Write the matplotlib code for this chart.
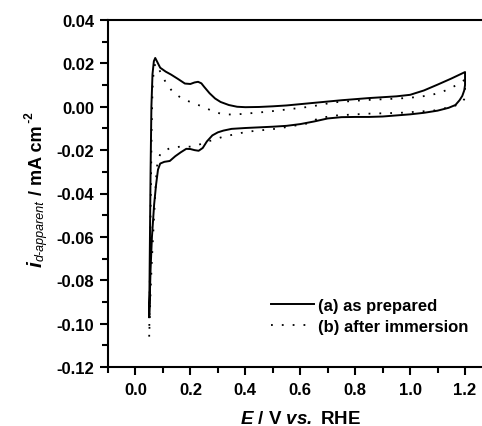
import matplotlib
matplotlib.use('Agg')
import matplotlib.pyplot as plt
from matplotlib.ticker import MultipleLocator

# (a) as prepared - positive sweep then negative sweep
E_a_fwd = [0.050, 0.052, 0.055, 0.058, 0.062, 0.067, 0.072, 0.078, 0.09, 0.11, 0.13, 0.155, 0.18, 0.20,
           0.215, 0.228, 0.24, 0.25, 0.27, 0.29, 0.31, 0.34, 0.37, 0.40, 0.45, 0.50, 0.55, 0.60, 0.65,
           0.70, 0.75, 0.80, 0.85, 0.90, 0.95, 1.00, 1.05, 1.10, 1.15, 1.20]
i_a_fwd = [-0.097, -0.070, -0.030, 0.000, 0.015, 0.021, 0.0225, 0.021, 0.018, 0.0162, 0.0148, 0.0128,
           0.0107, 0.0105, 0.0112, 0.0115, 0.0108, 0.0092, 0.0062, 0.0038, 0.0022, 0.0008, 0.0000,
           -0.0002, -0.0001, 0.0002, 0.0006, 0.0012, 0.0018, 0.0024, 0.0030, 0.0035, 0.0040, 0.0044,
           0.0048, 0.0055, 0.0075, 0.0102, 0.0130, 0.0160]
E_a_rev = [1.20, 1.197, 1.19, 1.18, 1.165, 1.14, 1.10, 1.05, 1.00, 0.95, 0.90, 0.85, 0.80, 0.75, 0.70,
           0.65, 0.60, 0.55, 0.50, 0.45, 0.40, 0.35, 0.32, 0.30, 0.28, 0.26, 0.245, 0.23, 0.215, 0.20,
           0.185, 0.165, 0.145, 0.125, 0.105, 0.09, 0.082, 0.075, 0.068, 0.060, 0.055, 0.050]
i_a_rev = [0.0100, 0.0075, 0.0050, 0.0030, 0.0008, -0.0005, -0.0018, -0.0028, -0.0035, -0.0040,
           -0.0045, -0.0047, -0.0047, -0.0048, -0.0054, -0.0068, -0.0080, -0.0088, -0.0092, -0.0095,
           -0.0098, -0.0102, -0.0110, -0.0118, -0.0132, -0.0160, -0.0190, -0.0203, -0.0200, -0.0195,
           -0.0194, -0.0210, -0.0228, -0.0250, -0.0254, -0.0262, -0.0290, -0.0360, -0.0450, -0.0600,
           -0.0750, -0.0970]

# (b) after immersion
E_b_fwd = [0.050, 0.051, 0.053, 0.056, 0.059, 0.062, 0.066, 0.072, 0.08, 0.09, 0.11, 0.135, 0.17, 0.21,
           0.25, 0.285, 0.32, 0.36, 0.40, 0.48, 0.575, 0.64, 0.72, 0.84, 0.96, 1.03, 1.08, 1.12, 1.16, 1.20]
i_b_fwd = [-0.106, -0.095, -0.070, -0.040, -0.010, 0.008, 0.016, 0.0200, 0.0185, 0.0162, 0.0113,
           0.0069, 0.0037, 0.0017, -0.0002, -0.0023, -0.0035, -0.0036, -0.0032, -0.0023, -0.0009,
           0.0001, 0.0020, 0.0031, 0.0038, 0.0045, 0.0055, 0.0070, 0.0094, 0.0125]
E_b_rev = [1.20, 1.197, 1.19, 1.164, 1.12, 1.084, 0.964, 0.844, 0.72, 0.662, 0.636, 0.516, 0.407, 0.32,
           0.262, 0.211, 0.164, 0.127, 0.091, 0.08, 0.075, 0.068, 0.060, 0.055, 0.050]
i_b_rev = [0.0060, 0.0035, 0.0020, 0.0005, -0.0009, -0.0018, -0.0028, -0.0032, -0.0041, -0.0055,
           -0.0075, -0.0101, -0.0115, -0.0138, -0.0161, -0.0184, -0.0184, -0.0189, -0.0216, -0.0253,
           -0.0330, -0.0500, -0.0700, -0.0850, -0.1060]

plt.rcParams['font.family'] = ['Liberation Sans', 'DejaVu Sans']
plt.rcParams['font.weight'] = 'bold'
plt.rcParams['mathtext.fontset'] = 'custom'
plt.rcParams['mathtext.rm'] = 'Liberation Sans:bold'
plt.rcParams['mathtext.it'] = 'Liberation Sans:italic'
plt.rcParams['mathtext.bf'] = 'Liberation Sans:bold'
plt.rcParams['mathtext.bfit'] = 'Liberation Sans:italic:bold'

W, H = 482, 427
fig = plt.figure(figsize=(W / 100, H / 100), dpi=100)
ax = fig.add_axes([108 / W, 59 / H, 384.5 / W, 347 / H])

ax.plot(E_a_fwd + E_a_rev, i_a_fwd + i_a_rev, color='black', lw=1.4, label='(a) as prepared')
ax.plot(E_b_fwd + E_b_rev, i_b_fwd + i_b_rev, color='black', lw=1.3, linestyle=(0, (1, 5)),
        label='(b) after immersion')

ax.set_xlim(-0.1, 1.3)
ax.set_ylim(-0.12, 0.04)
ax.xaxis.set_major_locator(MultipleLocator(0.2))
ax.xaxis.set_minor_locator(MultipleLocator(0.1))
ax.yaxis.set_major_locator(MultipleLocator(0.02))
ax.yaxis.set_minor_locator(MultipleLocator(0.01))
ax.tick_params(which='major', direction='out', length=6, width=1.5, labelsize=12)
ax.tick_params(axis='x', which='major', pad=5)
ax.tick_params(axis='y', which='major', pad=4)
ax.tick_params(which='minor', direction='out', length=4, width=1.5)
ax.xaxis.set_major_formatter(plt.FuncFormatter(lambda v, p: f'{v:.1f}'))
ax.yaxis.set_major_formatter(plt.FuncFormatter(lambda v, p: f'{v:.2f}'))
for lab in ax.get_xticklabels() + ax.get_yticklabels():
    lab.set_fontweight('bold')
for s in ax.spines.values():
    s.set_linewidth(1.5)

ax.set_xlabel(r'$\mathbfit{E}$ / V $\mathbfit{vs.}$ RHE', fontsize=13.5, fontweight='bold', labelpad=9)

ax.legend(loc='center left', bbox_to_anchor=(0.424, 0.147), frameon=False,
          prop={'size': 12, 'weight': 'bold'},
          handlelength=2.6, handletextpad=0.2, labelspacing=0.35, borderpad=0, borderaxespad=0)

# y label built from pieces (big italic i, small subscript, superscript -2)
fig.canvas.draw()
renderer = fig.canvas.get_renderer()
ylabel_parts = [('i', 15, 'italic', 'bold', 0),
                ('d-apparent', 9, 'italic', 'normal', 1.5),
                (' / mA cm', 13, 'normal', 'bold', 0),
                (' -2', 8.5, 'normal', 'bold', -9)]
base_x = 42
cur_y = H - 267
for txt, size, style, weight, dx in ylabel_parts:
    t = fig.text((base_x + dx) / W, cur_y / H, txt, rotation=90, rotation_mode='anchor',
                 ha='left', va='baseline', fontsize=size, style=style, weight=weight)
    cur_y = t.get_window_extent(renderer).y1

fig.savefig('out.png', dpi=100)
